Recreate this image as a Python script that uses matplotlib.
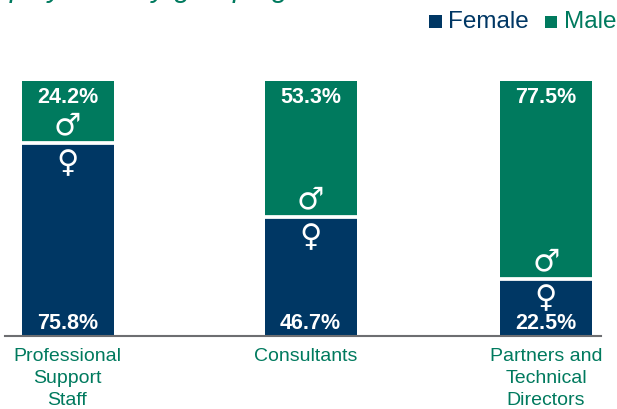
import matplotlib
matplotlib.use('Agg')
import matplotlib.pyplot as plt
from matplotlib.patches import Rectangle

categories = ["Professional\nSupport\nStaff", "Consultants", "Partners and\nTechnical\nDirectors"]
female = [75.8, 46.7, 22.5]
male = [24.2, 53.3, 77.5]

NAVY = '#003764'
GREEN = '#007A5E'
W, H = 617, 409

plt.rcParams['font.family'] = ['Liberation Sans', 'DejaVu Sans']

fig = plt.figure(figsize=(W/100, H/100), dpi=100)
# axes in pixels: baseline at y=336, top of bars at y=81
ax = fig.add_axes([0, (H-336)/H, 1, (336-81)/H])
ax.set_xlim(0, W)
ax.set_ylim(0, 100)
ax.axis('off')

centers = [67.5, 310.5, 546]
label_x = [67.5, 306, 546]
bar_w = 92

for x, f, m in zip(centers, female, male):
    ax.bar(x, f, bar_w, color=NAVY, linewidth=0)
    ax.bar(x, m, bar_w, bottom=f, color=GREEN, linewidth=0)
    # white separator
    ax.plot([x-bar_w/2, x+bar_w/2], [f, f], color='white', lw=2.7, solid_capstyle='butt')
    ax.text(x, 100-6.4, f"{m}%", color='white', fontsize=15.5, fontweight='bold', ha='center', va='center')
    ax.text(x, 5, f"{f}%", color='white', fontsize=15.5, fontweight='bold', ha='center', va='center')
    ax.text(x, f+6.5, "\u2642", color='white', fontsize=22, ha='center', va='center', family='DejaVu Sans')
    ax.text(x, f-8, "\u2640", color='white', fontsize=22, ha='center', va='center', family='DejaVu Sans')

# baseline
ax.plot([5, 601], [0, 0], color='#6d6e71', lw=1.5, clip_on=False)

# category labels
for x, c in zip(label_x, categories):
    fig.text(x/W, 1-348/H, c, color=GREEN, fontsize=14, ha='center', va='top', linespacing=1.38)

# legend
fig.patches.append(Rectangle((429/W, 1-28/H), 13/W, 13/H, transform=fig.transFigure, color=NAVY, lw=0))
fig.text(448/W, 1-22/H, "Female", color=NAVY, fontsize=17.5, ha='left', va='center')
fig.patches.append(Rectangle((545/W, 1-28/H), 12/W, 12/H, transform=fig.transFigure, color=GREEN, lw=0))
fig.text(564/W, 1-22/H, "Male", color=GREEN, fontsize=17.5, ha='left', va='center')

# title is cropped by the top edge, only the descenders show
fig.text(10/W, 1+3/H, "ployment by grouping", color=GREEN, fontsize=21, style='italic', ha='left', va='baseline')

fig.savefig('out.png', dpi=100)
